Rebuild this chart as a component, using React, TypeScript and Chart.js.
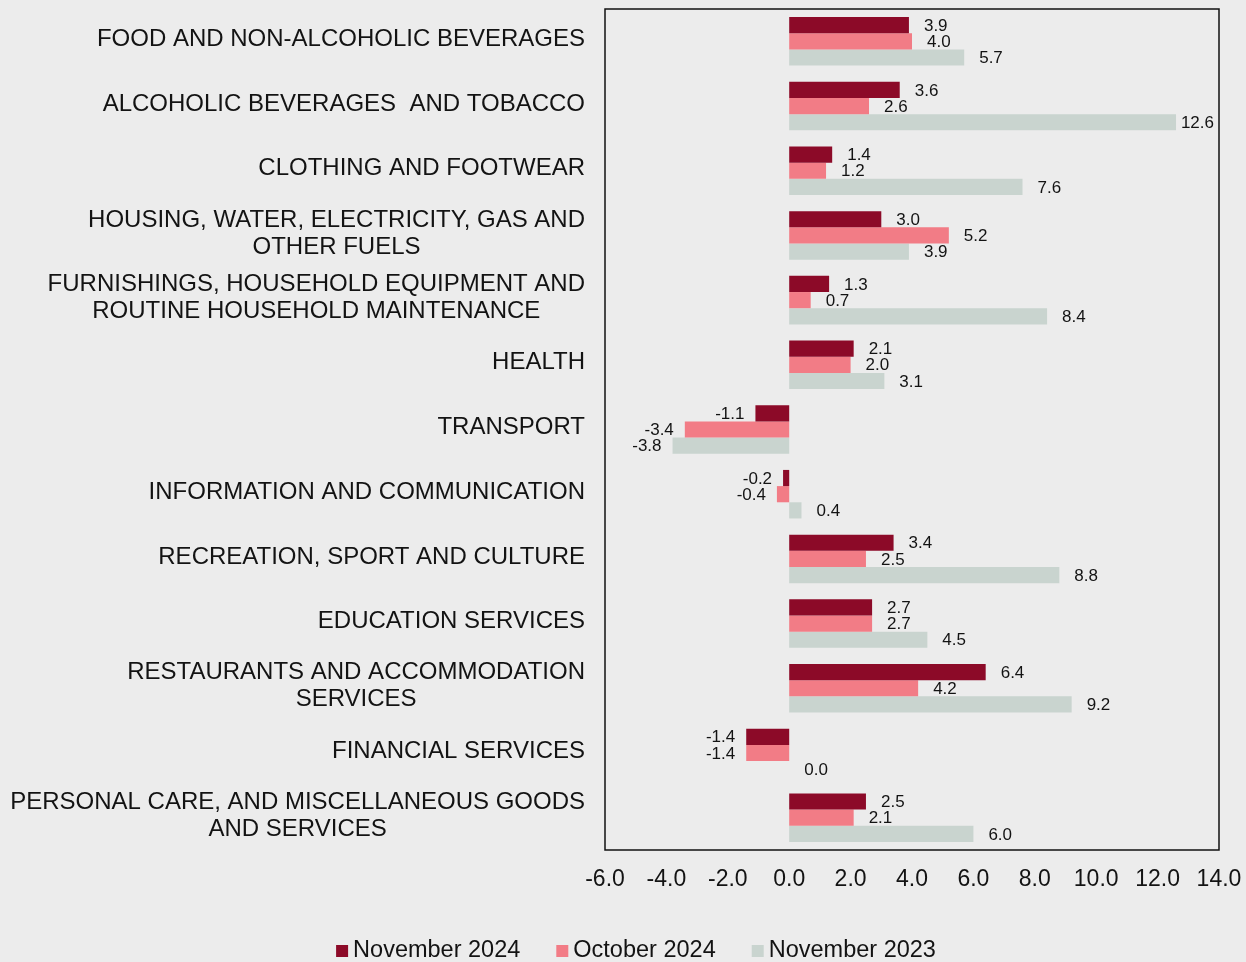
import React, { useEffect, useRef } from "react";
import { Chart, registerables } from "chart.js";

Chart.register(...registerables);

const categories: (string | string[])[] = [
  "FOOD AND NON-ALCOHOLIC BEVERAGES",
  "ALCOHOLIC BEVERAGES  AND TOBACCO",
  "CLOTHING AND FOOTWEAR",
  ["HOUSING, WATER, ELECTRICITY, GAS AND", "OTHER FUELS"],
  ["FURNISHINGS, HOUSEHOLD EQUIPMENT AND", "ROUTINE HOUSEHOLD MAINTENANCE"],
  "HEALTH",
  "TRANSPORT",
  "INFORMATION AND COMMUNICATION",
  "RECREATION, SPORT AND CULTURE",
  "EDUCATION SERVICES",
  ["RESTAURANTS AND ACCOMMODATION", "SERVICES"],
  "FINANCIAL SERVICES",
  ["PERSONAL CARE, AND MISCELLANEOUS GOODS", "AND SERVICES"],
];

const nov2024 = [3.9, 3.6, 1.4, 3.0, 1.3, 2.1, -1.1, -0.2, 3.4, 2.7, 6.4, -1.4, 2.5];
const oct2024 = [4.0, 2.6, 1.2, 5.2, 0.7, 2.0, -3.4, -0.4, 2.5, 2.7, 4.2, -1.4, 2.1];
const nov2023 = [5.7, 12.6, 7.6, 3.9, 8.4, 3.1, -3.8, 0.4, 8.8, 4.5, 9.2, 0.0, 6.0];

const seriesNames = ["November 2024", "October 2024", "November 2023"];
const seriesColors = ["#8C0A28", "#F27C86", "#C9D4CF"];

const FONT = "'Liberation Sans', Arial, sans-serif";
const TEXT = "#131313";

const valueLabels = {
  id: "valueLabels",
  afterDatasetsDraw(chart: any) {
    const ctx = chart.ctx;
    const maxRight = chart.chartArea.right - 5;
    ctx.save();
    ctx.font = `17px ${FONT}`;
    ctx.fillStyle = TEXT;
    ctx.textBaseline = "middle";
    chart.data.datasets.forEach((ds: any, di: number) => {
      const meta = chart.getDatasetMeta(di);
      meta.data.forEach((el: any, i: number) => {
        const v = ds.data[i];
        const txt = v.toFixed(1);
        if (v >= 0) {
          const w = ctx.measureText(txt).width;
          const x = Math.min(el.x + 15, maxRight - w);
          ctx.textAlign = "left";
          ctx.fillText(txt, x, el.y + 1);
        } else {
          ctx.textAlign = "right";
          ctx.fillText(txt, el.x - 11, el.y + 1);
        }
      });
    });
    ctx.restore();
  },
};

const categoryLabels = {
  id: "categoryLabels",
  afterDraw(chart: any) {
    const { ctx } = chart;
    const yScale = chart.scales.y;
    const right = chart.chartArea.left - 20;
    ctx.save();
    ctx.font = `24px ${FONT}`;
    ctx.fillStyle = TEXT;
    ctx.textBaseline = "middle";
    ctx.textAlign = "center";
    (chart.data.labels as any[]).forEach((lab: any, i: number) => {
      const lines: string[] = Array.isArray(lab) ? lab : [lab];
      const maxW = Math.max(...lines.map((l) => ctx.measureText(l).width));
      const cx = right - maxW / 2;
      const cy = yScale.getPixelForValue(i) - 2;
      lines.forEach((l, j) => {
        ctx.fillText(l, cx, cy + (j - (lines.length - 1) / 2) * 27);
      });
    });
    ctx.restore();
  },
};

const customLegend = {
  id: "customLegend",
  afterDraw(chart: any) {
    const { ctx } = chart;
    ctx.save();
    ctx.font = `23.5px ${FONT}`;
    ctx.textBaseline = "middle";
    ctx.textAlign = "left";
    const box = 12;
    const gapBoxText = 5;
    const gapItems = 36;
    const items = chart.data.datasets.map((ds: any) => ({
      text: ds.label,
      color: ds.backgroundColor,
      w: ctx.measureText(ds.label).width,
    }));
    const total = items.reduce((s: number, it: any) => s + box + gapBoxText + it.w, 0) + gapItems * (items.length - 1);
    let x = chart.width / 2 + 13 - total / 2;
    const y = 951;
    items.forEach((it: any) => {
      ctx.fillStyle = it.color;
      ctx.fillRect(x, y - box / 2, box, box);
      x += box + gapBoxText;
      ctx.fillStyle = TEXT;
      ctx.fillText(it.text, x, y);
      x += it.w + gapItems;
    });
    ctx.restore();
  },
};

const plotBorder = {
  id: "plotBorder",
  afterDraw(chart: any) {
    const { ctx, chartArea } = chart;
    ctx.save();
    ctx.strokeStyle = "#111";
    ctx.lineWidth = 1.5;
    ctx.strokeRect(chartArea.left, chartArea.top, chartArea.right - chartArea.left, chartArea.bottom - chartArea.top);
    ctx.restore();
  },
};

export default function App() {
  const ref = useRef<HTMLCanvasElement>(null);
  useEffect(() => {
    document.body.style.margin = "0";
    const chart = new Chart(ref.current!, {
      type: "bar",
      data: {
        labels: categories,
        datasets: [nov2024, oct2024, nov2023].map((d, i) => ({
          label: seriesNames[i],
          data: d,
          backgroundColor: seriesColors[i],
          borderWidth: 0,
          categoryPercentage: 0.75,
          barPercentage: 1.0,
        })),
      },
      options: {
        indexAxis: "y",
        animation: false,
        responsive: false,
        maintainAspectRatio: false,
        layout: { padding: { top: 9, right: 27, left: 0, bottom: 0 } },
        scales: {
          x: {
            min: -6,
            max: 14,
            ticks: {
              stepSize: 2,
              color: TEXT,
              font: { family: FONT, size: 23 },
              padding: 16,
              maxRotation: 0,
              autoSkip: false,
              callback: (v: any) => Number(v).toFixed(1),
            },
            grid: { display: false, drawTicks: false },
            border: { display: false },
            afterFit: (s: any) => {
              s.height = 112;
              s.paddingLeft = 0;
              s.paddingRight = 0;
            },
          },
          y: {
            ticks: { display: false },
            grid: { display: false, drawTicks: false },
            border: { display: false },
            afterFit: (s: any) => {
              s.width = 605;
              s.paddingTop = 0;
              s.paddingBottom = 0;
            },
          },
        },
        plugins: {
          legend: { display: false },
          tooltip: { enabled: false },
        },
      },
      plugins: [valueLabels, categoryLabels, customLegend, plotBorder],
    });
    return () => chart.destroy();
  }, []);
  return (
    <div style={{ position: "absolute", left: 0, top: 0, width: 1246, height: 962, background: "#ececec" }}>
      <canvas ref={ref} width={1246} height={962} style={{ width: 1246, height: 962 }} />
    </div>
  );
}
